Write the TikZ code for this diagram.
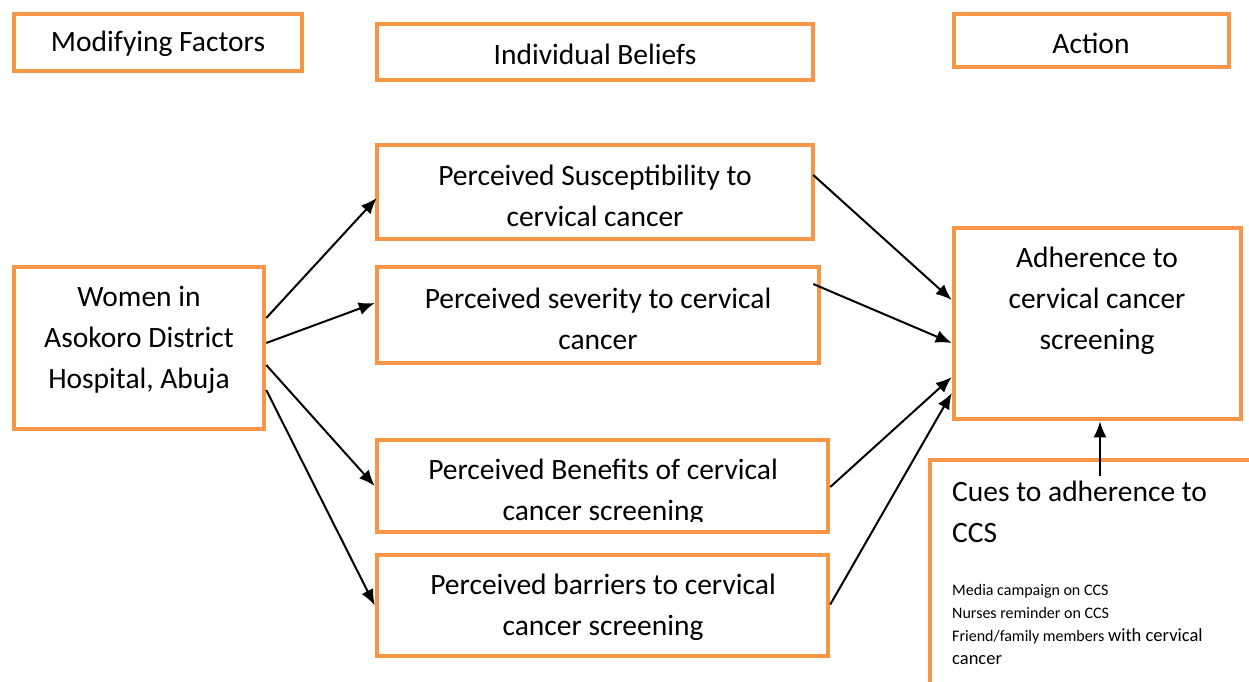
\documentclass[tikz,border=0pt]{standalone}
\usepackage{fontspec}
\setmainfont{Carlito}
\usetikzlibrary{arrows.meta}
\definecolor{boxorange}{HTML}{F79646}
\tikzset{
  box/.style={draw=boxorange, line width=4.5pt, fill=white, inner sep=0pt},
  txt/.style={inner sep=0pt, align=center, font=\fontsize{29.5}{41}\selectfont},
  arr/.style={draw=black, line width=2pt, -{Latex[length=16pt,width=13pt]}, shorten >=0pt}
}
\begin{document}
\begin{tikzpicture}[x=1pt,y=-1pt]
\clip (0,0) rectangle (1249,682);
\fill[white] (0,0) rectangle (1249,682);
% boxes
\node[box, minimum width=288pt, minimum height=57pt] (mod) at (158,42.5) {};
\node[box, minimum width=436pt, minimum height=56pt] (ind) at (595,52) {};
\node[box, minimum width=275pt, minimum height=53pt] (act) at (1091.5,40.5) {};
\node[box, minimum width=436pt, minimum height=94pt] (sus) at (595,192) {};
\node[box, minimum width=442pt, minimum height=96pt] (sev) at (598,315) {};
\node[box, minimum width=250pt, minimum height=162pt] (wom) at (139,348) {};
\node[box, minimum width=451pt, minimum height=92pt] (ben) at (602.5,486) {};
\node[box, minimum width=451pt, minimum height=101pt] (bar) at (602.5,605.5) {};
\node[box, minimum width=287pt, minimum height=191pt] (adh) at (1097.5,323.5) {};
\node[box, minimum width=340pt, minimum height=240pt] (cues) at (1100,580) {};
% texts
\node[txt] (tmod) at (158,44) {Modifying Factors};
\node[txt] (tind) at (595,54) {Individual Beliefs};
\node[txt] (tact) at (1091,43) {Action};
\node[txt] (tsus) at (595,196) {Perceived Susceptibility to\\cervical cancer};
\node[txt] (tsev) at (598,319) {Perceived severity to cervical\\cancer};
\node[txt] (twom) at (139,340) {Women in\\Asokoro District\\Hospital, Abuja};
\begin{scope}
\clip (379,442) rectangle (826,521);
\node[txt] (tben) at (603,492.5) {Perceived Benefits of cervical\\cancer screening};
\end{scope}
\node[txt] (tbar) at (603,607.5) {Perceived barriers to cervical\\cancer screening};
\node[txt] (tadh) at (1097,301) {Adherence to\\cervical cancer\\screening};
\node[txt, anchor=west, align=left] (tcues) at (952,512) {Cues to adherence to\\CCS};
\node[inner sep=0pt, anchor=north west, align=left, font=\fontsize{16}{23}\selectfont] (tlist) at (952,584)
  {Media campaign on CCS\\Nurses reminder on CCS\\Friend/family members {\fontsize{18.5}{23}\selectfont with cervical}\\{\fontsize{18.5}{23}\selectfont cancer}};
% arrows
\draw[arr] ([yshift=30pt]wom.east) -- ([yshift=-6pt,xshift=2pt]sus.west);
\draw[arr] ([yshift=5pt]wom.east) -- ([yshift=12pt]sev.west);
\draw[arr] ([yshift=-17pt]wom.east) -- (ben.west);
\draw[arr] ([yshift=-42pt]wom.east) -- (bar.west);
\draw[arr] ([yshift=17pt,xshift=-2pt]sus.east) -- ([yshift=23.5pt]adh.west);
\draw[arr] ([yshift=31pt,xshift=-8pt]sev.east) -- ([yshift=-19.5pt]adh.west);
\draw[arr] ([yshift=-1pt]ben.east) -- ([yshift=-53.5pt]adh.west);
\draw[arr] ([yshift=1pt]bar.east) -- ([yshift=-69.5pt]adh.west);
\coordinate (cuestart) at (1100,476);
\draw[arr] (cuestart) -- (cuestart |- adh.south);
\end{tikzpicture}
\end{document}
